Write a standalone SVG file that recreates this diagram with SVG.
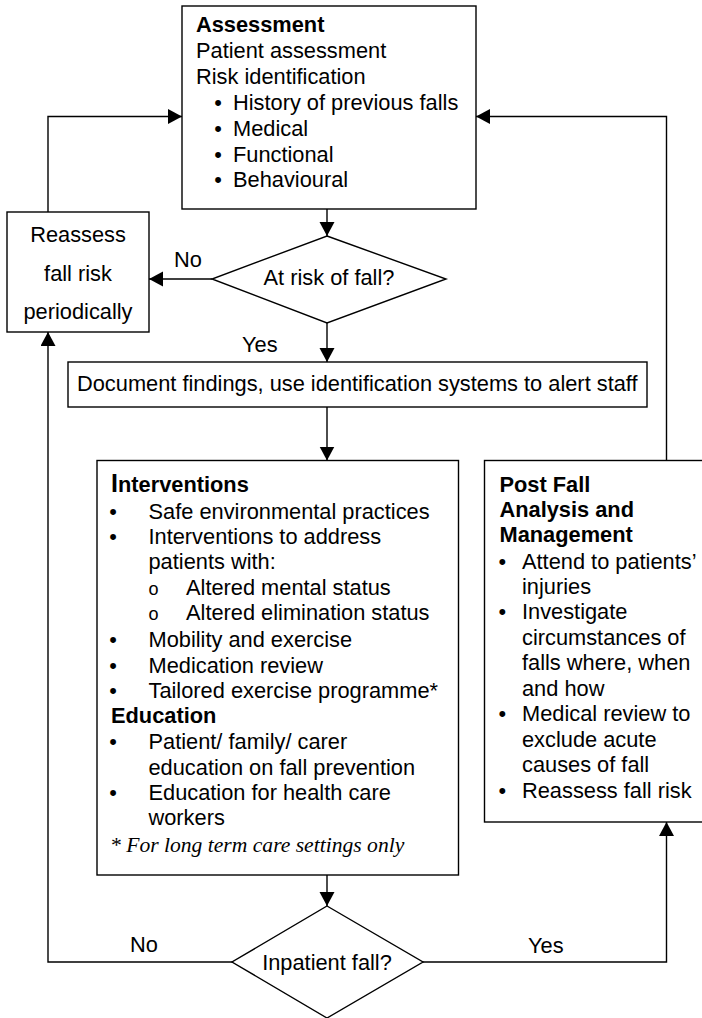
<svg xmlns="http://www.w3.org/2000/svg" width="702" height="1018" viewBox="0 0 702 1018">
<style>
.box{fill:#fff;stroke:#000;stroke-width:1.4}
.ln{fill:none;stroke:#000;stroke-width:1.4}
text{font-family:"Liberation Sans",Arial,sans-serif;font-size:21.8px;fill:#000}
.b{font-weight:bold}
.c{text-anchor:middle}
.it{font-family:"Liberation Serif","Times New Roman",serif;font-style:italic;font-size:21.6px}
.o{font-size:18px}
</style>
<defs>
<marker id="ah" markerUnits="userSpaceOnUse" markerWidth="15" markerHeight="16" refX="14" refY="7.5" orient="auto">
<path d="M0,0 L14,7.5 L0,15 z" fill="#000"/>
</marker>
</defs>
<rect width="702" height="1018" fill="#fff"/>
<g id="connectors">
<path class="ln" d="M327,209 V236" marker-end="url(#ah)"/>
<path class="ln" d="M212,279 H149" marker-end="url(#ah)"/>
<path class="ln" d="M327,323 V362" marker-end="url(#ah)"/>
<path class="ln" d="M48,212 V116.5 H182" marker-end="url(#ah)"/>
<path class="ln" d="M666.5,460.5 V116.5 H476" marker-end="url(#ah)"/>
<path class="ln" d="M327,407 V460.5" marker-end="url(#ah)"/>
<path class="ln" d="M327,875 V906" marker-end="url(#ah)"/>
<path class="ln" d="M232,962 H48 V332" marker-end="url(#ah)"/>
<path class="ln" d="M423,962 H666.5 V822" marker-end="url(#ah)"/>
<text x="174" y="267">No</text>
<text x="242" y="352">Yes</text>
<text x="130" y="952">No</text>
<text x="528" y="953">Yes</text>
</g>
<g id="assessment">
<rect class="box" x="182" y="6" width="294" height="203"/>
<text class="b" x="196" y="32">Assessment</text>
<text x="196" y="58">Patient assessment</text>
<text x="196" y="84">Risk identification</text>
<text class="c" x="218" y="110">•</text><text x="233" y="110">History of previous falls</text>
<text class="c" x="218" y="136">•</text><text x="233" y="136">Medical</text>
<text class="c" x="218" y="161.5">•</text><text x="233" y="161.5">Functional</text>
<text class="c" x="218" y="187">•</text><text x="233" y="187">Behavioural</text>
</g>
<g id="reassess">
<rect class="box" x="7" y="212" width="142" height="120"/>
<text class="c" x="78" y="242">Reassess</text>
<text class="c" x="78" y="281">fall risk</text>
<text class="c" x="78" y="318.5">periodically</text>
</g>
<g id="at-risk">
<polygon class="box" points="327,236 446,279 327,323 212,279"/>
<text class="c" x="329" y="285">At risk of fall?</text>
</g>
<g id="document">
<rect class="box" x="68" y="362" width="579" height="45"/>
<text x="77" y="391">Document findings, use identification systems to alert staff</text>
</g>
<g id="interventions">
<rect class="box" x="97" y="460.5" width="361.5" height="414.5"/>
<text class="b" x="111" y="492"><tspan font-size="25">I</tspan>nterventions</text>
<text class="c" x="113" y="519.3">•</text><text x="148.5" y="519.3">Safe environmental practices</text>
<text class="c" x="113" y="544.3">•</text><text x="148.5" y="544.3">Interventions to address</text>
<text x="148.5" y="569.3">patients with:</text>
<text class="c o" x="153.5" y="595">o</text><text x="186" y="595">Altered mental status</text>
<text class="c o" x="153.5" y="620">o</text><text x="186" y="620">Altered elimination status</text>
<text class="c" x="113" y="646.7">•</text><text x="148.5" y="646.7">Mobility and exercise</text>
<text class="c" x="113" y="672.7">•</text><text x="148.5" y="672.7">Medication review</text>
<text class="c" x="113" y="698.3">•</text><text x="148.5" y="698.3">Tailored exercise programme*</text>
<text class="b" x="111" y="723.3">Education</text>
<text class="c" x="113" y="749.3">•</text><text x="148.5" y="749.3">Patient/ family/ carer</text>
<text x="148.5" y="775">education on fall prevention</text>
<text class="c" x="113" y="800">•</text><text x="148.5" y="800">Education for health care</text>
<text x="148.5" y="825">workers</text>
<text class="it" x="110" y="851.7">* For long term care settings only</text>
</g>
<g id="post-fall">
<rect class="box" x="484.5" y="460.5" width="230" height="361.5"/>
<text class="b" x="499.5" y="492">Post Fall</text>
<text class="b" x="499.5" y="517">Analysis and</text>
<text class="b" x="499.5" y="542">Management</text>
<text class="c" x="502.3" y="568.5">•</text><text x="522" y="568.5">Attend to patients’</text>
<text x="522" y="593.5">injuries</text>
<text class="c" x="502.3" y="618.5">•</text><text x="522" y="618.5">Investigate</text>
<text x="522" y="645">circumstances of</text>
<text x="522" y="670">falls where, when</text>
<text x="522" y="696">and how</text>
<text class="c" x="502.3" y="721">•</text><text x="522" y="721">Medical review to</text>
<text x="522" y="746.5">exclude acute</text>
<text x="522" y="771.5">causes of fall</text>
<text class="c" x="502.3" y="797.5">•</text><text x="522" y="797.5">Reassess fall risk</text>
</g>
<g id="inpatient-fall">
<polygon class="box" points="327,906 423,962 327,1018 232,962"/>
<text class="c" x="327" y="970">Inpatient fall?</text>
</g>
</svg>
